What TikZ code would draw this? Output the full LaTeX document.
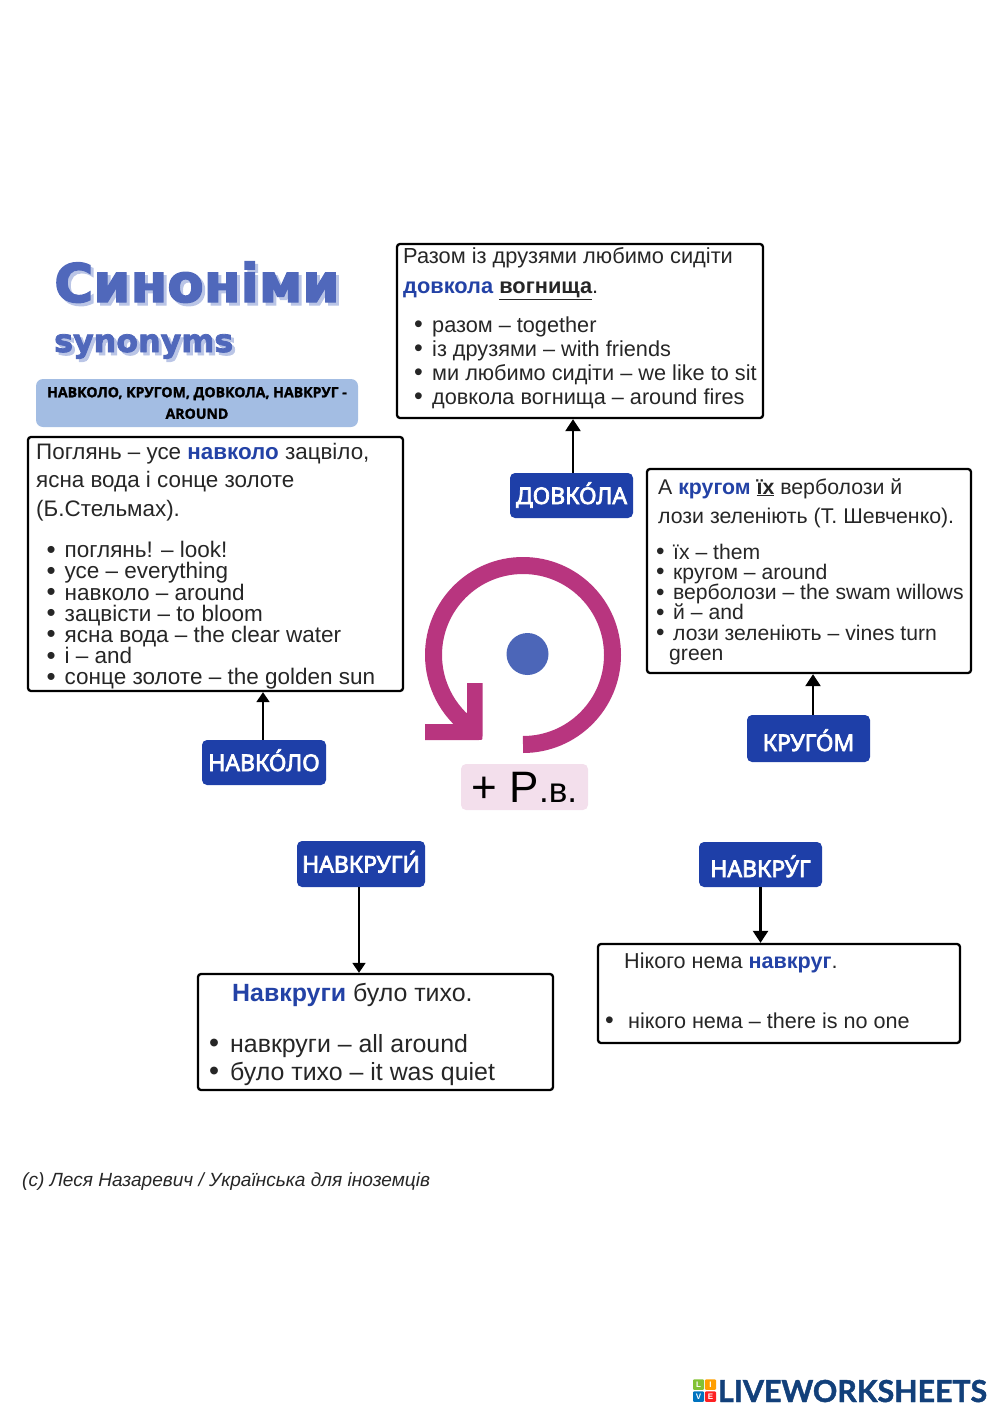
\documentclass[tikz,border=0pt]{standalone}
\usepackage{fontspec}
\setmainfont{Liberation Sans}
\newfontfamily\btnfont{Noto Sans}[Script=Cyrillic,FakeBold=3.2]
\newfontfamily\heavyfont{DejaVu Sans}[BoldFeatures={FakeBold=2.5}]
\newfontfamily\pillfont{Open Sans}[BoldFeatures={FakeBold=1.5}]
\newfontfamily\logofont{Lato}[BoldFeatures={FakeBold=1.5}]
\usetikzlibrary{arrows.meta}
\definecolor{ink}{HTML}{262626}
\definecolor{kw}{HTML}{2342A6}
\definecolor{btn}{HTML}{1E3FA8}
\definecolor{ttl}{HTML}{5068BB}
\definecolor{ttlsh}{HTML}{BAC5E6}
\definecolor{pill}{HTML}{A3BDE3}
\definecolor{ring}{HTML}{B8357F}
\definecolor{disc}{HTML}{4C66B8}
\definecolor{pink}{HTML}{F3DFEC}
\definecolor{logo}{HTML}{12407A}
\newcommand{\kw}[1]{\textcolor{kw}{\textbf{#1}}}
\newcommand{\topline}{\rule{0pt}{20pt}}
\newcommand{\bul}{\raisebox{-.02em}{\fontsize{1.15em}{1em}\selectfont\textbullet}}
\newlength{\bulw}
\setlength{\bulw}{15pt}
\newcommand{\li}[1]{\makebox[\bulw][l]{\bul}#1}
\tikzset{
  card/.style={draw=black,line width=2.3pt,rounded corners=3pt,fill=white,inner sep=0pt},
  txt/.style={anchor=north west,inner sep=0pt,align=left,text=ink},
  label/.style={fill=btn,rounded corners=5pt,text=white,inner sep=0pt,text height=17pt,text depth=0pt,font=\btnfont\fontsize{23}{23}\selectfont},
  link/.style={draw=black,line width=2.4pt,-{Triangle[length=12pt,width=15pt]}},
  linkthin/.style={draw=black,line width=1.7pt,-{Triangle[length=10pt,width=13pt]}},
  tile/.style={minimum width=11pt,minimum height=10.5pt,inner sep=0pt,rounded corners=1pt,text=white,font=\bfseries\fontsize{8}{8}\selectfont},
}
\begin{document}
\begin{tikzpicture}[x=1pt,y=-1pt]
\useasboundingbox (0,0) rectangle (1000,1415);
% title
\node[anchor=base west,inner sep=0pt,text=ttlsh,font=\heavyfont\bfseries\fontsize{53.2}{53}\selectfont] (titleshadow) at (57,305) {Синоніми};
\node[anchor=base west,inner sep=0pt,text=ttl,font=\heavyfont\bfseries\fontsize{53.2}{53}\selectfont] (title) at (54,302) {Синоніми};
\node[anchor=base west,inner sep=0pt,text=ttlsh,font=\heavyfont\bfseries\fontsize{31.7}{31}\selectfont] (subshadow) at (57,355) {synonyms};
\node[anchor=base west,inner sep=0pt,text=ttl,font=\heavyfont\bfseries\fontsize{31.7}{31}\selectfont] (sub) at (54,352) {synonyms};
\node[fill=pill,rounded corners=7pt,minimum width=322pt,minimum height=48pt,inner sep=0pt,align=center,text=black,font=\pillfont\bfseries\fontsize{14.1}{21.5}\selectfont] (pill) at (197,403) {НАВКОЛО, КРУГОМ, ДОВКОЛА, НАВКРУГ -\\AROUND};
% cards
\node[card,minimum width=366pt,minimum height=174pt] (cardA) at (580,331) {};
\node[card,minimum width=375pt,minimum height=254pt] (cardB) at (215.5,564) {};
\node[card,minimum width=324pt,minimum height=204pt] (cardC) at (809,571) {};
\node[card,minimum width=355pt,minimum height=116pt] (cardD) at (375.5,1032) {};
\node[card,minimum width=362pt,minimum height=99pt] (cardE) at (779,993.5) {};
% card texts
\node[txt,font=\fontsize{21.8}{30}\selectfont] (textA) at (403,243) {\topline Разом із друзями любимо сидіти\\\kw{довкола} \textbf{\underline{вогнища}}.};
\node[txt,font=\fontsize{21.7}{24}\selectfont,execute at begin node={\setlength{\bulw}{18pt}}] (listA) at (414,312) {\topline\li{разом – together}\\\li{із друзями – with friends}\\\li{ми любимо сидіти – we like to sit}\\\li{довкола вогнища – around fires}};
\node[txt,font=\fontsize{22.4}{28.5}\selectfont] (textB) at (36,439) {\topline Поглянь – усе \kw{навколо} зацвіло,\\ясна вода і сонце золоте\\(Б.Стельмах).};
\node[txt,font=\fontsize{22.5}{21.17}\selectfont,execute at begin node={\setlength{\bulw}{18pt}}] (listB) at (46.5,537.5) {\topline\li{поглянь! – look!}\\\li{усе – everything}\\\li{навколо – around}\\\li{зацвісти – to bloom}\\\li{ясна вода – the clear water}\\\li{і – and}\\\li{сонце золоте – the golden sun}};
\node[txt,font=\fontsize{21.3}{29}\selectfont] (textC) at (658,474) {\topline А \kw{кругом} \textbf{\underline{їх}} верболози й\\лози зеленіють (Т. Шевченко).};
\node[txt,font=\fontsize{21.15}{20.2}\selectfont,execute at begin node={\setlength{\bulw}{17pt}}] (listC) at (656,539) {\topline\li{їх – them}\\\li{кругом – around}\\\li{верболози – the swam willows}\\\li{й – and}\\\li{лози зеленіють – vines turn}\\\hspace{13pt}green};
\node[txt,font=\fontsize{24.9}{28}\selectfont] (textD) at (232,981) {\topline\kw{Навкруги} було тихо.};
\node[txt,font=\fontsize{24.9}{28}\selectfont,execute at begin node={\setlength{\bulw}{21pt}}] (listD) at (209,1032) {\topline\li{навкруги – all around}\\\li{було тихо – it was quiet}};
\node[txt,font=\fontsize{21.6}{21}\selectfont] (textE) at (624,948) {\topline Нікого нема \kw{навкруг}.};
\node[txt,font=\fontsize{21.6}{21}\selectfont,execute at begin node={\setlength{\bulw}{23pt}}] (listE) at (605,1008) {\topline\li{нікого нема – there is no one}};
% labels
\node[label,minimum width=124pt,minimum height=45pt] (navkolo) at (264,762.5) {НАВКО́ЛО};
\node[label,minimum width=123pt,minimum height=45pt] (dovkola) at (571.5,495.5) {ДОВКО́ЛА};
\node[label,minimum width=123pt,minimum height=47pt] (krugom) at (808.5,738.5) {\raisebox{-4pt}{КРУГО́М}};
\node[label,minimum width=128pt,minimum height=46pt] (navkrugy) at (361,864) {НАВКРУГИ́};
\node[label,minimum width=123pt,minimum height=45pt] (navkrug) at (760.5,864.5) {\raisebox{-4pt}{НАВКРУ́Г}};
% connectors
\draw[link] ([xshift=1.5pt]dovkola.north) -- ([xshift=1.5pt]dovkola.north |- cardA.south);
\draw[link] ([xshift=4.5pt]krugom.north) -- ([xshift=4.5pt]krugom.north |- cardC.south);
\draw[linkthin] ([xshift=-1pt]navkolo.north) -- ([xshift=-1pt]navkolo.north |- cardB.south);
\draw[linkthin] ([xshift=-2pt]navkrugy.south) -- ([xshift=-2pt]navkrugy.south |- cardD.north);
\draw[link] (navkrug.south) -- (navkrug.south |- cardE.north);
% ring
\draw[ring,line width=17pt] (523,744.5) arc[start angle=-90,end angle=234,radius=89.5pt];
\fill[ring] (467,683) -- (482.5,683) -- (482.5,736) .. controls (482.5,740) .. (478.5,740) -- (425,740) -- (425,724) -- (467,724) -- cycle;
\fill[disc] (527.5,654) circle[radius=21pt];
\node[fill=pink,rounded corners=5pt,minimum width=127pt,minimum height=46pt,inner sep=0pt,text=black] (case) at (524.5,787) {\fontsize{44}{44}\selectfont + Р\fontsize{35}{35}\selectfont.в.};
% footer
\node[anchor=base west,inner sep=0pt,text=ink,font=\itshape\fontsize{19.1}{19}\selectfont] (credit) at (22,1186) {(с) Леся Назаревич / Українська для іноземців};
% logo
\node[tile,fill=green!45!yellow!70!black!80] (tileL) at (698.5,1384.5) {L};
\node[tile,fill=orange!75!yellow] (tileI) at (710.5,1384.5) {I};
\node[tile,fill=blue!40!cyan!75!black] (tileV) at (698.5,1396.5) {V};
\node[tile,fill=red!85!pink] (tileE) at (710.5,1396.5) {E};
\node[anchor=base west,inner sep=0pt,text=logo,font=\logofont\bfseries\fontsize{30.3}{30}\selectfont] (logo) at (718,1402) {LIVEWORKSHEETS};
\end{tikzpicture}
\end{document}
